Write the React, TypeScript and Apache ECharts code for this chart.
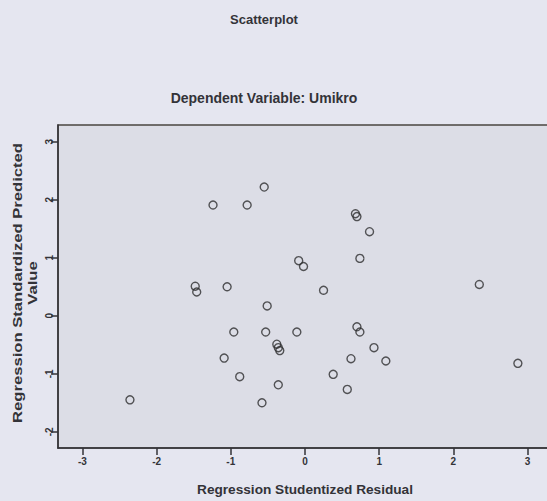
import React, { useEffect, useRef } from "react";
import * as echarts from "echarts";

const titleText = "Scatterplot";
const subtitleText = "Dependent Variable: Umikro";
const xAxisName = "Regression Studentized Residual";
const yAxisName = "Regression Standardized Predicted\nValue";

// Regression Studentized Residual
const residuals = [
  -0.55, -1.24, -0.78, -0.085, -0.02, -1.48, -1.46, -1.05, 0.25, 0.68, 0.7, 0.87,
  0.74, 2.35, -0.51, -0.96, -0.53, -0.11, -0.38, -0.36, -0.34, -1.09, -0.88, -0.36,
  -2.36, -0.58, 0.38, 0.7, 0.74, 0.93, 0.62, 1.09, 0.57, 2.87,
];
// Regression Standardized Predicted Value
const predicted = [
  2.22, 1.91, 1.91, 0.95, 0.85, 0.51, 0.41, 0.5, 0.44, 1.76, 1.71, 1.45,
  0.99, 0.54, 0.17, -0.28, -0.28, -0.28, -0.49, -0.55, -0.6, -0.73, -1.05, -1.19,
  -1.45, -1.5, -1.01, -0.19, -0.28, -0.55, -0.74, -0.78, -1.27, -0.82,
];
const xTicks = [-3, -2, -1, 0, 1, 2, 3];
const yTicks = [-2, -1, 0, 1, 2, 3];

const FONT = "'Liberation Sans', Arial, sans-serif";
const INK = "#333338";

export default function App() {
  const ref = useRef<HTMLDivElement>(null);
  useEffect(() => {
    if (!ref.current) return;
    const chart = echarts.init(ref.current, undefined, { renderer: "svg" });
    const data = residuals.map((x, i) => [x, predicted[i]]);
    chart.setOption({
      animation: false,
      backgroundColor: "#e5e6f0",
      grid: {
        left: 58,
        top: 125,
        width: 494,
        height: 323,
        show: true,
        backgroundColor: "#dcdde6",
        borderColor: "#4a4640",
        borderWidth: 1.5,
      },
      xAxis: {
        type: "value",
        min: -3.33,
        max: 3.33,
        splitLine: { show: false },
        axisLine: { show: true, onZero: false, lineStyle: { color: INK, width: 1.5 } },
        axisTick: { show: true, length: 7, lineStyle: { color: INK, width: 1.5 }, customValues: xTicks },
        axisLabel: {
          color: INK,
          fontFamily: FONT,
          fontSize: 10,
          fontWeight: "bold",
          margin: 8,
          customValues: xTicks,
        },
      },
      yAxis: {
        type: "value",
        min: -2.28,
        max: 3.29,
        splitLine: { show: false },
        axisLine: { show: true, onZero: false, lineStyle: { color: INK, width: 1.5 } },
        axisTick: { show: true, length: 7, lineStyle: { color: INK, width: 1.5 }, customValues: yTicks },
        axisLabel: {
          color: INK,
          fontFamily: FONT,
          fontSize: 10,
          fontWeight: "bold",
          rotate: 90,
          margin: 4,
          customValues: yTicks,
        },
      },
      graphic: [
        {
          type: "text",
          x: 264,
          y: 19,
          style: {
            text: titleText,
            align: "center",
            verticalAlign: "middle",
            font: `bold 13px ${FONT}`,
            fill: INK,
          },
        },
        {
          type: "text",
          x: 264,
          y: 98,
          style: {
            text: subtitleText,
            align: "center",
            verticalAlign: "middle",
            font: `bold 14px ${FONT}`,
            fill: INK,
          },
        },
        {
          type: "text",
          x: 305,
          y: 490,
          scaleX: 1.05,
          style: {
            text: xAxisName,
            align: "center",
            verticalAlign: "middle",
            font: `bold 13px ${FONT}`,
            fill: INK,
          },
        },
        {
          type: "text",
          x: 25,
          y: 283,
          rotation: Math.PI / 2,
          scaleX: 1.28,
          style: {
            text: yAxisName,
            align: "center",
            verticalAlign: "middle",
            lineHeight: 15,
            font: `bold 13px ${FONT}`,
            fill: INK,
          },
        },
      ],
      series: [
        {
          type: "scatter",
          data,
          symbol: "circle",
          symbolSize: 8,
          itemStyle: { color: "transparent", borderColor: "#2e2e30", borderWidth: 1.4 },
        },
      ],
    });
    return () => chart.dispose();
  }, []);
  return (
    <div
      ref={ref}
      style={{ position: "absolute", left: 0, top: 0, width: 560, height: 501 }}
    />
  );
}
